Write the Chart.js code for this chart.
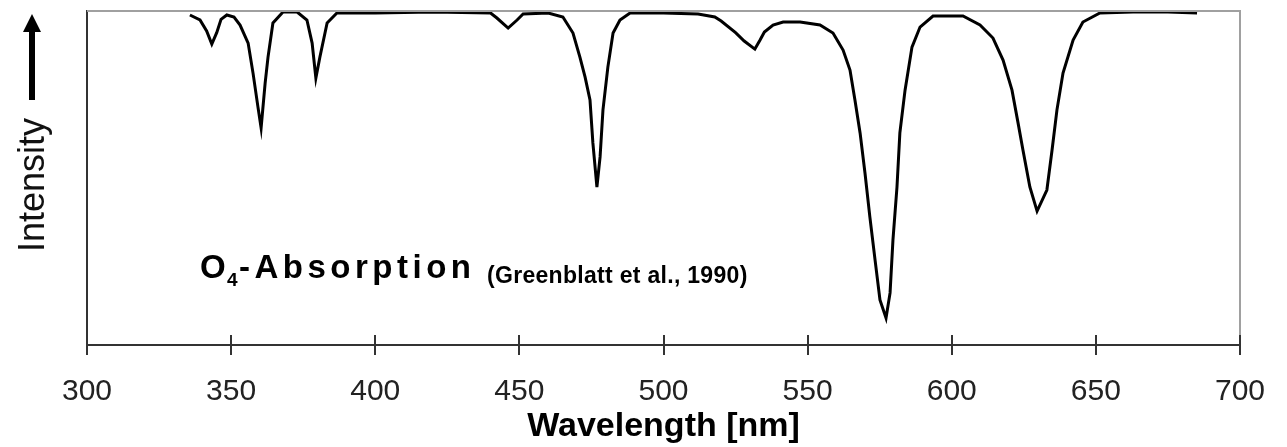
<!DOCTYPE html>
<html>
<head>
<meta charset="utf-8">
<script src="https://cdn.jsdelivr.net/npm/chart.js@4.4.0/dist/chart.umd.min.js"></script>
<style>
  html, body { margin: 0; padding: 0; background: #fff; }
  #wrap { width: 1287px; height: 447px; }
</style>
</head>
<body>
<div id="wrap"><canvas id="chart" width="1287" height="447"></canvas></div>
<script>
// O4 absorption spectrum (wavelength in nm, relative intensity 0..100)
const wavelengths = [
  335.7, 339.2, 341.5, 343.3, 345.0, 346.5, 348.5, 351.0, 353.1, 355.9,
  357.6, 359.3, 360.4, 361.8, 362.8, 364.5, 368.0, 372.9, 376.3, 378.1,
  379.4, 380.8, 383.3, 386.7, 400.0, 420.0, 440.0, 442.2, 446.1, 449.2,
  451.3, 460.0, 465.1, 468.6, 471.0, 472.8, 474.5, 475.5, 476.9, 478.0,
  479.0, 480.7, 482.5, 484.9, 488.4, 500.0, 512.0, 517.8, 520.0, 525.0,
  528.0, 531.7, 533.5, 535.0, 538.0, 541.5, 547.4, 554.3, 558.8, 562.3,
  564.7, 566.4, 568.2, 569.9, 571.6, 573.4, 575.1, 577.2, 578.6, 579.6,
  581.0, 582.0, 583.8, 586.2, 589.0, 593.5, 603.9, 609.8, 614.3, 617.8,
  620.9, 623.0, 624.7, 627.1, 629.6, 633.0, 634.8, 636.5, 638.6, 642.1,
  645.5, 651.4, 662.9, 675.0, 685.1
];
const intensity = [
  98.8, 97.3, 94.0, 90.1, 93.5, 97.5, 98.8, 98.2, 95.8, 90.4,
  81.4, 71.3, 65.0, 78.4, 86.2, 96.4, 99.7, 99.7, 97.3, 90.4,
  79.9, 86.2, 96.4, 99.4, 99.4, 99.7, 99.4, 97.9, 94.9, 97.3,
  99.1, 99.4, 98.2, 93.4, 86.2, 80.2, 73.4, 60.5, 47.3, 56.3,
  70.4, 83.2, 93.4, 97.3, 99.4, 99.4, 99.1, 98.2, 97.0, 93.5,
  91.0, 88.6, 91.3, 93.7, 95.8, 96.7, 96.7, 95.8, 93.4, 88.3,
  82.3, 73.4, 63.5, 51.5, 38.3, 25.4, 13.5, 8.1, 15.6, 31.4,
  47.3, 63.5, 76.3, 89.2, 95.2, 98.5, 98.5, 95.8, 91.9, 85.3,
  76.3, 66.5, 58.4, 47.3, 40.1, 46.4, 58.4, 70.4, 81.4, 91.3,
  96.7, 99.4, 99.7, 99.7, 99.4
];
const xTicks = [300, 350, 400, 450, 500, 550, 600, 650, 700];

const points = wavelengths.map((w, i) => ({ x: w, y: intensity[i] }));

// frame, upward half of the tick marks, axis title and the label inside the plot
const decorations = {
  id: 'decorations',
  afterDraw(chart) {
    const ctx = chart.ctx;
    const area = chart.chartArea;
    const xs = chart.scales.x;
    ctx.save();

    ctx.strokeStyle = '#a0a0a0';
    ctx.lineWidth = 2;
    ctx.beginPath();
    ctx.moveTo(area.left, area.top);
    ctx.lineTo(area.right, area.top);
    ctx.lineTo(area.right, area.bottom);
    ctx.stroke();

    ctx.strokeStyle = '#333';
    ctx.lineWidth = 2;
    xs.ticks.forEach((t, i) => {
      const px = Math.round(xs.getPixelForTick(i));
      ctx.beginPath();
      ctx.moveTo(px, area.bottom - 10);
      ctx.lineTo(px, area.bottom);
      ctx.stroke();
    });

    // y title with arrow
    ctx.fillStyle = '#111';
    ctx.font = '36px "Liberation Sans", Arial, sans-serif';
    ctx.translate(44, 252);
    ctx.rotate(-Math.PI / 2);
    ctx.textAlign = 'left';
    ctx.textBaseline = 'alphabetic';
    ctx.fillText('Intensity', 0, 0);
    ctx.setTransform(1, 0, 0, 1, 0, 0);

    ctx.fillStyle = '#000';
    ctx.fillRect(29, 30, 6, 70);
    ctx.beginPath();
    ctx.moveTo(23, 32);
    ctx.lineTo(41, 32);
    ctx.lineTo(32, 14);
    ctx.closePath();
    ctx.fill();

    // label
    ctx.fillStyle = '#000';
    ctx.textAlign = 'left';
    ctx.font = 'bold 33px "Liberation Sans", Arial, sans-serif';
    ctx.fillText('O', 200, 278);
    ctx.font = 'bold 19px "Liberation Sans", Arial, sans-serif';
    ctx.fillText('4', 227, 286);
    ctx.font = 'bold 33px "Liberation Sans", Arial, sans-serif';
    ctx.letterSpacing = '4.5px';
    ctx.fillText('-Absorption', 239, 278);
    ctx.letterSpacing = '0.3px';
    ctx.font = 'bold 23px "Liberation Sans", Arial, sans-serif';
    ctx.fillText('(Greenblatt et al., 1990)', 487, 283);
    ctx.letterSpacing = '0px';

    ctx.restore();
  }
};

new Chart(document.getElementById('chart'), {
  type: 'scatter',
  data: {
    datasets: [{
      data: points,
      showLine: true,
      borderColor: '#000',
      borderWidth: 3,
      pointRadius: 0,
      tension: 0
    }]
  },
  options: {
    responsive: false,
    animation: false,
    layout: { padding: { left: 87, top: 11, right: 47, bottom: 0 } },
    plugins: { legend: { display: false }, tooltip: { enabled: false } },
    scales: {
      x: {
        type: 'linear',
        min: 300,
        max: 700,
        afterBuildTicks: (axis) => { axis.ticks = xTicks.map(v => ({ value: v })); },
        afterFit: (axis) => { axis.height = 102; },
        grid: { display: true, drawOnChartArea: false, drawTicks: true, tickLength: 10, color: '#333', lineWidth: 2 },
        border: { display: true, color: '#333', width: 2 },
        ticks: {
          color: '#222',
          padding: 19,
          maxRotation: 0,
          font: { family: '"Liberation Sans", Arial, sans-serif', size: 30 }
        },
        title: {
          display: true,
          text: 'Wavelength [nm]',
          color: '#000',
          padding: { top: 0, bottom: 0 },
          font: { family: '"Liberation Sans", Arial, sans-serif', size: 34, weight: 'bold' }
        }
      },
      y: {
        min: 0,
        max: 100,
        afterFit: (axis) => { axis.width = 0; },
        grid: { display: false },
        border: { display: true, color: '#333', width: 2 },
        ticks: { display: false }
      }
    }
  },
  plugins: [decorations]
});
</script>
</body>
</html>
